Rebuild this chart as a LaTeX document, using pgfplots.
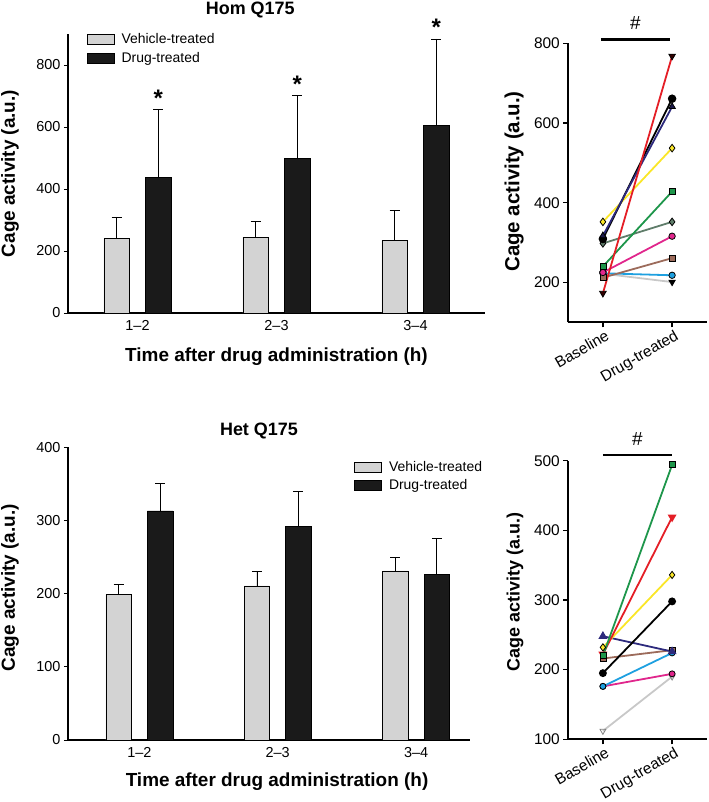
\documentclass[border=0pt]{standalone}
\usepackage{fontspec}
\setmainfont{Liberation Sans}
\usepackage{pgfplots}
\pgfplotsset{compat=1.18}

\definecolor{vehgray}{RGB}{211,211,211}
\definecolor{drugblk}{RGB}{26,26,26}
\definecolor{cred}{RGB}{228,30,38}
\definecolor{cnavy}{RGB}{45,42,125}
\definecolor{cyellow}{RGB}{250,230,40}
\definecolor{cgreen}{RGB}{30,150,75}
\definecolor{cslate}{RGB}{95,125,106}
\definecolor{cmagenta}{RGB}{224,38,140}
\definecolor{cbrown}{RGB}{156,107,91}
\definecolor{csky}{RGB}{30,160,224}
\definecolor{clgray}{RGB}{200,200,200}

\pgfplotsset{
  barbase/.style={
    scale only axis, axis lines=left,
    axis line style={-, line width=1.3pt},
    tick align=outside, major tick length=4bp,
    tick style={line width=1pt, black},
    xtick style={draw=none},
    clip=false,
    /pgf/number format/assume math mode=true,
    ticklabel style={font=\fontsize{14.5}{16}\selectfont},
    xtick={1,2,3}, xticklabels={1--2,2--3,3--4},
    label style={font=\fontsize{19}{22}\selectfont\bfseries},
    xlabel={Time after drug administration (h)},
    ylabel={Cage activity (a.u.)},
    legend image code/.code={\draw[draw=black, line width=0.6pt, ##1] (0bp,-5bp) rectangle (27bp,5bp);},
    legend style={draw=none, fill=none, inner sep=0pt, row sep=3bp,
      font=\fontsize{14}{16}\selectfont, anchor=north west,
      nodes={inner sep=2bp},
      /tikz/every odd column/.append style={column sep=5bp}},
    legend cell align=left,
  },
  vehbar/.style={forget plot, ybar, bar width=25.5bp, bar shift=0pt, fill=vehgray, draw=black, line width=0.7pt,
    error bars/.cd, y dir=plus, y explicit, error mark=|, error bar style={line width=0.8pt, black},
    error mark options={mark size=5bp, line width=0.8pt, black}},
  drugbar/.style={forget plot, ybar, bar width=25.5bp, bar shift=0pt, fill=drugblk, draw=black, line width=0.7pt,
    error bars/.cd, y dir=plus, y explicit, error mark=|, error bar style={line width=0.8pt, black},
    error mark options={mark size=5bp, line width=0.8pt, black}},
  pairbase/.style={
    scale only axis, axis lines=left,
    axis line style={-, line width=1.8pt},
    tick align=outside, major tick length=5bp,
    tick style={line width=1.3pt, black},
    xmin=0.5, xmax=2.5, xtick={1,2}, xticklabels={Baseline,Drug-treated},
    clip=false,
    /pgf/number format/assume math mode=true,
    ticklabel style={font=\fontsize{15.5}{17}\selectfont},
    xticklabel style={rotate=30, anchor=north east, xshift=4bp, yshift=1bp},
    ylabel={Cage activity (a.u.)},
  },
  ln/.style={line width=1.8pt},
}

\begin{document}
\begin{tikzpicture}
\useasboundingbox (0,0) rectangle (709bp,-802bp);

% ---------------- Top-left: Hom Q175 bars ----------------
\begin{axis}[barbase,
  at={(68bp,-313bp)}, anchor=south west,
  width=417bp, height=279bp,
  xmin=0.5, xmax=3.5, ymin=0, ymax=900,
  ytick={0,200,400,600,800},
  ylabel style={at={(axis description cs:-0.139,0.5)}, anchor=center},
  xlabel style={at={(axis description cs:0.5,0)}, anchor=center, yshift=-44bp},
  legend style={at={(axis description cs:0.045,1.01)}},
]
\addlegendimage{fill=vehgray}\addlegendentry{Vehicle-treated}
\addlegendimage{fill=drugblk}\addlegendentry{Drug-treated}
\addplot[vehbar] coordinates {(0.85,240) +- (0,70) (1.85,245) +- (0,50) (2.85,234) +- (0,97)};
\addplot[drugbar] coordinates {(1.15,438) +- (0,219) (2.15,498) +- (0,205) (3.15,605) +- (0,279)};
\node[font=\fontsize{24}{24}\selectfont\bfseries, anchor=base, yshift=3bp] at (axis cs:1.15,657) {*};
\node[font=\fontsize{24}{24}\selectfont\bfseries, anchor=base, yshift=3bp] at (axis cs:2.15,703) {*};
\node[font=\fontsize{24}{24}\selectfont\bfseries, anchor=base, yshift=3bp] at (axis cs:3.15,884) {*};
\node[font=\fontsize{18}{20}\selectfont\bfseries, anchor=center] at (axis description cs:0.437,1.085) {Hom Q175};
\end{axis}

% ---------------- Bottom-left: Het Q175 bars ----------------
\begin{axis}[barbase,
  at={(68bp,-740bp)}, anchor=south west,
  width=402bp, height=292.7bp,
  xmin=0.484, xmax=3.39, ymin=0, ymax=400,
  ytick={0,100,200,300,400},
  ylabel style={at={(axis description cs:-0.144,0.52)}, anchor=center},
  xlabel style={at={(axis description cs:0.52,0)}, anchor=center, yshift=-42bp},
  legend style={at={(axis description cs:0.712,0.96)}},
]
\addlegendimage{fill=vehgray}\addlegendentry{Vehicle-treated}
\addlegendimage{fill=drugblk}\addlegendentry{Drug-treated}
\addplot[vehbar] coordinates {(0.85,198.6) +- (0,13.4) (1.85,210.5) +- (0,20.5) (2.85,231) +- (0,18.7)};
\addplot[drugbar] coordinates {(1.15,313) +- (0,38) (2.15,291.5) +- (0,48.5) (3.15,226.4) +- (0,48.6)};
\node[font=\fontsize{18}{20}\selectfont\bfseries, anchor=center] at (axis description cs:0.475,1.055) {Het Q175};
\end{axis}

% ---------------- Top-right: Hom paired ----------------
\begin{axis}[pairbase,
  at={(568.3bp,-322.3bp)}, anchor=south west,
  width=138.4bp, height=279bp,
  ymin=100, ymax=800, ytick={200,400,600,800},
  ylabel style={at={(axis description cs:-0.392,0.505)}, anchor=center, font=\fontsize{20.5}{22}\selectfont\bfseries},
]
\addplot[ln, clgray, mark=triangle*, mark options={rotate=180, fill=black, draw=black, mark size=3.6bp, line width=0.8pt}] coordinates {(1,222) (2,201)};
\addplot[ln, csky, mark=*, mark options={fill=csky, draw=black, mark size=3.2bp, line width=0.8pt}] coordinates {(1,223) (2,218)};
\addplot[ln, cbrown, mark=square*, mark options={fill=cbrown, draw=black, mark size=3bp, line width=0.8pt}] coordinates {(1,212) (2,261)};
\addplot[ln, cmagenta, mark=*, mark options={fill=cmagenta, draw=black, mark size=3.2bp, line width=0.8pt}] coordinates {(1,225) (2,316)};
\addplot[ln, cslate, mark=diamond*, mark options={fill=cslate, draw=black, mark size=3.8bp, line width=0.8pt}] coordinates {(1,298) (2,352)};
\addplot[ln, cgreen, mark=square*, mark options={fill=cgreen, draw=black, mark size=3bp, line width=0.8pt}] coordinates {(1,240) (2,428)};
\addplot[ln, cyellow, mark=diamond*, mark options={fill=cyellow, draw=black, mark size=3.8bp, line width=0.8pt}] coordinates {(1,352) (2,537)};
\addplot[ln, black, mark=*, mark options={fill=black, draw=black, mark size=3.3bp}] coordinates {(1,309) (2,661)};
\addplot[ln, cnavy, mark=triangle*, mark options={fill=cnavy!60!black, draw=black, mark size=3.8bp, line width=0.8pt}] coordinates {(1,317) (2,641)};
\addplot[ln, cred, mark=triangle*, mark options={rotate=180, fill=black!80!red, draw=black, mark size=3.8bp, line width=0.8pt}] coordinates {(1,173) (2,768)};
\draw[line width=2.6pt] (axis cs:0.97,810) -- (axis cs:1.97,810);
\node[font=\fontsize{19}{20}\selectfont, anchor=base, yshift=10bp] at (axis cs:1.47,810) {\#};
\end{axis}

% ---------------- Bottom-right: Het paired ----------------
\begin{axis}[pairbase,
  at={(568.3bp,-739.3bp)}, anchor=south west,
  width=138.4bp, height=278.6bp,
  ymin=100, ymax=500, ytick={100,200,300,400,500},
  ylabel style={at={(axis description cs:-0.385,0.529)}, anchor=center, font=\fontsize{18}{20}\selectfont\bfseries},
]
\addplot[ln, clgray, mark=triangle, mark options={rotate=180, fill=white, draw=gray, mark size=3.4bp, line width=0.8pt}] coordinates {(1,112) (2,190)};
\addplot[ln, cmagenta, mark=*, mark options={fill=cmagenta, draw=black, mark size=3bp, line width=0.8pt}] coordinates {(1,176) (2,194)};
\addplot[ln, csky, mark=*, mark options={fill=csky, draw=black, mark size=3bp, line width=0.8pt}] coordinates {(1,176) (2,224)};
\addplot[ln, cbrown, mark=square*, mark options={fill=cbrown, draw=black, mark size=3bp, line width=0.8pt}] coordinates {(1,216) (2,228)};
\addplot[ln, cnavy, mark=triangle*, mark options={fill=cnavy, draw=cnavy, mark size=3.4bp}] coordinates {(1,248) (2,226)};
\addplot[ln, black, mark=*, mark options={fill=black, draw=black, mark size=3bp}] coordinates {(1,195) (2,298)};
\addplot[ln, cyellow, mark=diamond*, mark options={fill=cyellow, draw=black, mark size=3.6bp, line width=0.8pt}] coordinates {(1,232) (2,336)};
\addplot[ln, cred, mark=triangle*, mark options={rotate=180, fill=cred, draw=cred, mark size=3.4bp}] coordinates {(1,222) (2,419)};
\addplot[ln, cgreen, mark=square*, mark options={fill=cgreen, draw=black, mark size=3bp, line width=0.8pt}] coordinates {(1,220) (2,494)};
\draw[line width=2.6pt] (axis cs:1,508) -- (axis cs:2,508);
\node[font=\fontsize{19}{20}\selectfont, anchor=base, yshift=10bp] at (axis cs:1.5,508) {\#};
\end{axis}
\end{tikzpicture}
\end{document}
